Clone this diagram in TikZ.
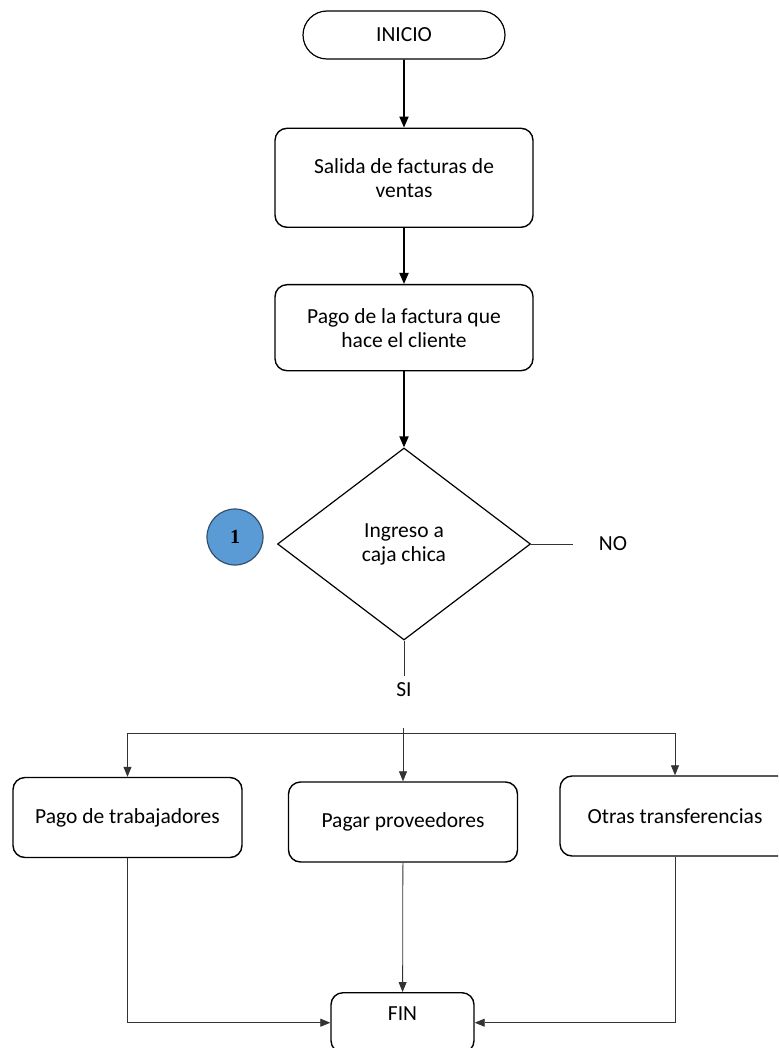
\documentclass[tikz,border=0pt]{standalone}
\usepackage{fontspec}
\setmainfont{Carlito}
\newfontfamily\numfont{Liberation Serif}
\usepackage{xcolor}
\usetikzlibrary{arrows.meta,positioning,shapes.geometric,shapes.misc}
\newcommand{\flowfont}{\fontsize{21.5}{24}\selectfont}
\definecolor{conblue}{RGB}{91,155,213}
\definecolor{conedge}{RGB}{50,80,110}
\tikzset{
  term/.style={draw, line width=1.2pt, rounded rectangle, minimum width=202pt,
               minimum height=48pt, inner sep=0pt, font=\flowfont},
  paso/.style={draw, line width=1.4pt, rounded corners=12pt, align=center,
               minimum width=258pt, inner sep=0pt, font=\flowfont},
  salida/.style={draw, line width=1.4pt, rounded corners=12pt, align=center,
                 minimum width=229pt, minimum height=80pt, inner sep=0pt, font=\flowfont},
  decision/.style={draw, line width=1.2pt, diamond, align=center, minimum width=253pt,
                   minimum height=192pt, inner sep=0pt, font=\flowfont},
  conector/.style={draw=conedge, fill=conblue, line width=1.2pt, circle,
                   minimum size=56pt, inner sep=0pt, font=\numfont\bfseries\fontsize{20}{22}\selectfont},
  flecha/.style={-{Triangle[length=11pt,width=9pt]}, line width=1.8pt},
  ramal/.style={-{Triangle[length=10pt,width=8pt]}, line width=0.8pt, draw=black!80},
  etiq/.style={font=\flowfont}
}

\begin{document}
\begin{tikzpicture}[x=1pt,y=-1pt]
\useasboundingbox (0,0) rectangle (778,1048);
\clip (0,0) rectangle (778,1048);

% columna principal
\node[term] (inicio) at (404,35) {INICIO};
\node[paso, minimum height=99pt, below=68pt of inicio] (salida) {Salida de facturas de\\ventas};
\node[paso, minimum height=86pt, below=56pt of salida] (pago) {Pago de la factura que\\hace el cliente};
\node[decision, below=76pt of pago] (caja) {Ingreso a\\caja chica};
\node[conector] (uno) at (235,537) {1};

\draw[flecha] (inicio) -- (salida);
\draw[flecha] (salida) -- (pago);
\draw[flecha] (pago) -- (caja);

% respuestas
\draw[line width=0.8pt, draw=black!80] (caja.east) -- ++(42,0) coordinate (no);
\node[etiq] (notxt) at (613,544) {NO};
\draw[line width=0.8pt, draw=black!80] (caja.south) -- ++(0,35) coordinate (si);
\node[etiq] (sitxt) at (404,690) {SI};

% destinos
\node[salida] (trab) at (127.5,817.5) {Pago de trabajadores};
\node[salida] (prov) at (403,822) {Pagar proveedores};
\node[salida, minimum width=230pt] (otras) at (675,816) {Otras transferencias};
\node[draw, line width=1.4pt, rounded corners=12pt, minimum width=143pt, inner ysep=0pt,
      text height=28pt, text depth=32pt, font=\flowfont, anchor=north] (fin) at (402.5,992) {FIN};

\coordinate (rizq) at (127.5,733);
\coordinate (rder) at (675,733);
\coordinate (rcen) at (403,728);
\draw[line width=0.8pt, draw=black!80] (rizq) -- (rder);
\draw[ramal] (rizq) -- (trab);
\draw[ramal] (rcen) -- (prov);
\draw[ramal] (rder) -- (otras);

\draw[ramal] (trab) |- (fin);
\draw[ramal] (prov) -- (fin);
\draw[ramal] (otras) |- (fin);
\end{tikzpicture}
\end{document}
